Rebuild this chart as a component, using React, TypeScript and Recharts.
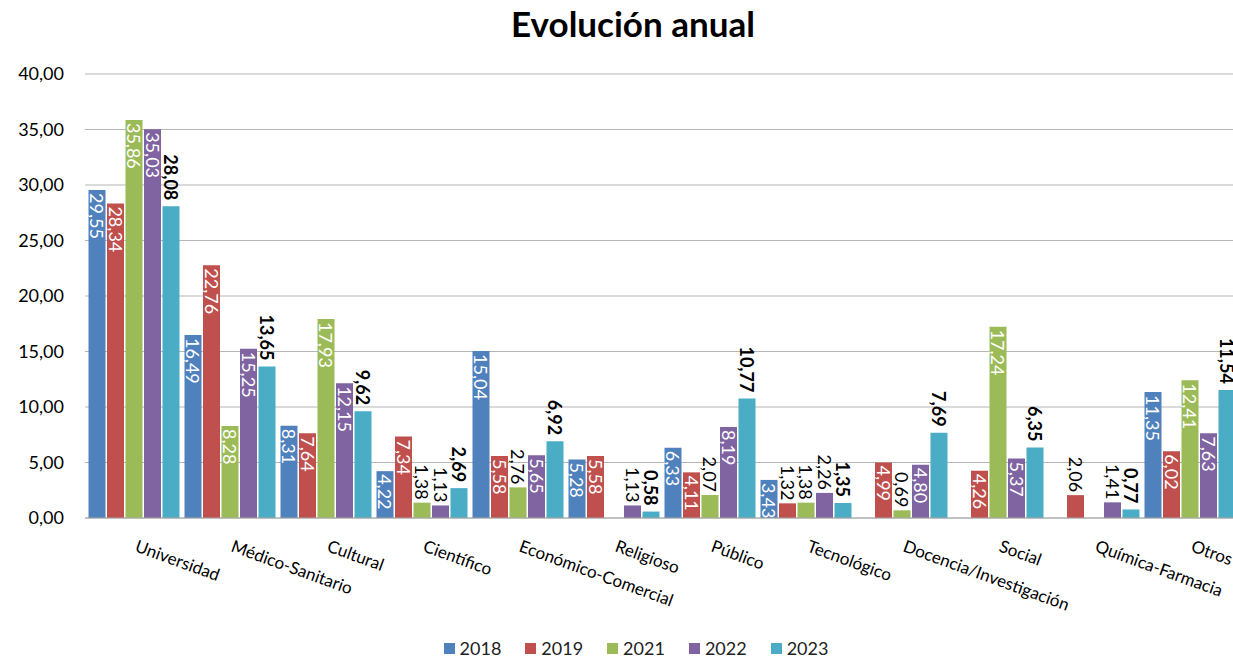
import { BarChart, Bar, XAxis, YAxis, CartesianGrid, Legend, LabelList } from "recharts";

const categories = [
  "Universidad",
  "Médico-Sanitario",
  "Cultural",
  "Científico",
  "Económico-Comercial",
  "Religioso",
  "Público",
  "Tecnológico",
  "Docencia/Investigación",
  "Social",
  "Química-Farmacia",
  "Otros",
];

const values2018 = [29.55, 16.49, 8.31, 4.22, 15.04, 5.28, 6.33, 3.43, null, null, null, 11.35];
const values2019 = [28.34, 22.76, 7.64, 7.34, 5.58, 5.58, 4.11, 1.32, 4.99, 4.26, 2.06, 6.02];
const values2021 = [35.86, 8.28, 17.93, 1.38, 2.76, null, 2.07, 1.38, 0.69, 17.24, null, 12.41];
const values2022 = [35.03, 15.25, 12.15, 1.13, 5.65, 1.13, 8.19, 2.26, 4.8, 5.37, 1.41, 7.63];
const values2023 = [28.08, 13.65, 9.62, 2.69, 6.92, 0.58, 10.77, 1.35, 7.69, 6.35, 0.77, 11.54];

const yTicks = [0, 5, 10, 15, 20, 25, 30, 35, 40];

const series = [
  { key: "2018", values: values2018, color: "#4f81bd" },
  { key: "2019", values: values2019, color: "#c0504d" },
  { key: "2021", values: values2021, color: "#9bbb59" },
  { key: "2022", values: values2022, color: "#8064a2" },
  { key: "2023", values: values2023, color: "#4bacc6" },
];

const data = categories.map((name, i) => {
  const row: any = { name };
  series.forEach((s) => {
    row[s.key] = s.values[i];
  });
  return row;
});

const FONT = "Lato, 'Open Sans', sans-serif";
const fmt = (v: number) => v.toFixed(2).replace(".", ",");

// 2023 labels always sit above the bar in bold; the rest go inside when the bar is tall enough
const makeLabel = (outsideAlways: boolean) => (props: any) => {
  const { x, y, width, height, value } = props;
  if (value === null || value === undefined) return null;
  const cx = x + width / 2;
  const inside = !outsideAlways && height >= 35;
  if (inside) {
    const ty = y + 3;
    return (
      <text
        x={cx}
        y={ty}
        transform={`rotate(90, ${cx}, ${ty})`}
        textAnchor="start"
        dominantBaseline="central"
        fill="#ffffff"
        fontSize={18}
        fontFamily={FONT}
      >
        {fmt(value)}
      </text>
    );
  }
  const ty = y - (outsideAlways ? 6 : 3);
  return (
    <text
      x={cx}
      y={ty}
      transform={`rotate(90, ${cx}, ${ty})`}
      textAnchor="end"
      dominantBaseline="central"
      fill="#000000"
      fontSize={18}
      fontWeight={outsideAlways ? 700 : 400}
      fontFamily={FONT}
    >
      {fmt(value)}
    </text>
  );
};

const CategoryTick = (props: any) => {
  const { x, y, payload } = props;
  const tx = x + 1;
  const ty = y + 25;
  return (
    <text
      x={tx}
      y={ty}
      transform={`rotate(20, ${tx}, ${ty})`}
      textAnchor="start"
      fill="#000"
      fontSize={17}
      fontFamily={FONT}
    >
      {payload.value}
    </text>
  );
};

const renderLegend = (props: any) => {
  const { payload } = props;
  return (
    <div style={{ display: "flex", justifyContent: "center", gap: 24, fontFamily: FONT, fontSize: 18, color: "#222" }}>
      {payload.map((entry: any) => (
        <span key={entry.value} style={{ display: "flex", alignItems: "center", gap: 5 }}>
          <span style={{ display: "inline-block", width: 11, height: 11, background: entry.color }} />
          {entry.value}
        </span>
      ))}
    </div>
  );
};

export default function App() {
  return (
    <div
      style={{
        position: "absolute",
        left: 0,
        top: 0,
        width: 1233,
        height: 658,
        overflow: "hidden",
        background: "#fff",
        fontFamily: FONT,
      }}
    >
      <div
        style={{
          position: "absolute",
          top: 2,
          left: 0,
          width: 1266,
          textAlign: "center",
          fontWeight: 700,
          fontSize: 35,
          color: "#000",
        }}
      >
        Evolución anual
      </div>
      <BarChart
        width={1240}
        height={658}
        data={data}
        margin={{ top: 74, right: 3, left: 0, bottom: 40 }}
        barCategoryGap={3.5}
        barGap={1.5}
      >
        <CartesianGrid vertical={false} stroke="#b5b5b5" />
        <XAxis
          dataKey="name"
          interval={0}
          height={100}
          tickLine={false}
          axisLine={{ stroke: "#a6a6a6" }}
          tick={<CategoryTick />}
        />
        <YAxis
          width={85}
          domain={[0, 40]}
          ticks={yTicks}
          tickFormatter={fmt}
          axisLine={false}
          tickLine={false}
          tickMargin={15}
          tick={{ fill: "#000", fontSize: 18, fontFamily: FONT }}
        />
        <Legend
          verticalAlign="middle"
          content={renderLegend}
          wrapperStyle={{ top: 637, left: 0, width: 1272 }}
        />
        {series.map((s) => (
          <Bar key={s.key} dataKey={s.key} fill={s.color} isAnimationActive={false}>
            <LabelList dataKey={s.key} content={makeLabel(s.key === "2023")} />
          </Bar>
        ))}
      </BarChart>
    </div>
  );
}
